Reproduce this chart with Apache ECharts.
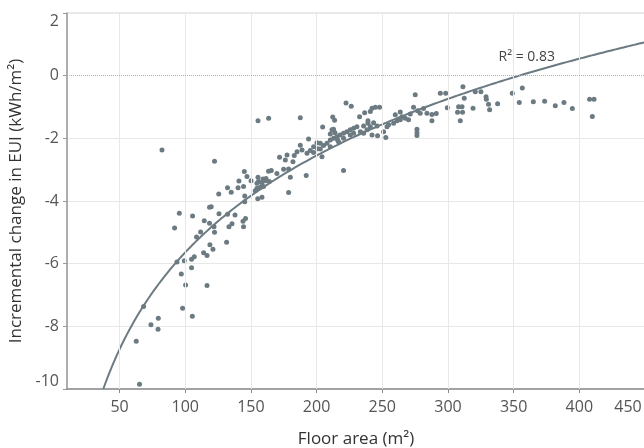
<!DOCTYPE html>
<html>
<head>
<meta charset="utf-8">
<script src="https://cdn.jsdelivr.net/npm/echarts@6/dist/echarts.min.js"></script>
<style>
html,body{margin:0;padding:0;background:#fff;}
#chart{width:644px;height:448px;}
</style>
</head>
<body>
<div id="chart"></div>
<script>
// Floor area (m²)
const floorArea = [
  65.2, 62.7, 68.3, 73.9, 79.5, 79.3, 98.0, 105.4, 100.3, 116.6,
  97.0, 104.8, 93.7, 99.3, 104.8, 106.9, 114.0, 116.6, 118.8, 121.1,
  108.6, 111.7, 122.3, 121.9, 91.9, 95.5, 105.6, 114.5, 118.5, 118.5,
  119.8, 125.7, 132.2, 137.9, 131.5, 133.3, 135.6, 144.0, 145.9, 144.4,
  82.3, 122.3, 125.5, 132.2, 135.0, 140.2, 140.9, 145.0, 147.0, 150.1,
  145.3, 145.3, 144.4, 155.4, 159.2, 161.5, 163.4, 165.5, 169.8, 155.8,
  158.4, 164.0, 154.6, 157.1, 153.3, 155.2, 158.4, 155.4, 163.5, 171.8,
  178.7, 180.0, 159.6, 160.9, 154.6, 174.9, 178.7, 177.5, 176.2, 182.0,
  183.0, 185.1, 188.9, 187.6, 192.7, 195.2, 197.7, 200.3, 197.7, 200.7,
  202.8, 202.8, 205.3, 207.9, 210.4, 204.1, 193.9, 192.1, 187.6, 204.6,
  212.3, 213.7, 212.9, 214.0, 210.4, 216.0, 220.5, 222.4, 226.4, 211.7,
  213.0, 215.5, 217.8, 216.7, 220.5, 220.5, 223.1, 225.6, 225.6, 228.2,
  228.2, 230.7, 232.7, 233.3, 235.8, 235.8, 236.6, 238.4, 239.1, 239.1,
  240.9, 240.9, 242.2, 242.2, 243.4, 244.7, 246.0, 246.4, 247.9, 251.0,
  252.7, 253.6, 254.8, 258.6, 259.9, 261.2, 263.7, 263.7, 265.0, 267.5,
  270.0, 271.3, 273.8, 275.1, 276.9, 276.4, 276.4, 276.4, 278.9, 281.4,
  284.0, 287.8, 287.8, 291.1, 294.2, 298.3, 299.5, 308.1, 310.7, 307.3,
  311.1, 309.4, 311.4, 312.4, 319.1, 320.8, 325.1, 329.0, 329.2, 330.9,
  331.7, 337.8, 349.0, 356.6, 354.3, 365.0, 373.6, 381.7, 388.3, 394.7,
  407.8, 411.2, 409.9, 210.4
];
// Incremental change in EUI (kWh/m²)
const euiChange = [
  -9.85, -8.48, -7.37, -7.95, -7.74, -8.09, -7.42, -7.68, -6.68, -6.70,
  -6.33, -6.13, -5.95, -5.91, -5.86, -5.78, -5.65, -5.74, -5.40, -5.54,
  -5.15, -4.99, -5.00, -4.82, -4.86, -4.39, -4.48, -4.63, -4.71, -4.20,
  -4.18, -4.41, -4.42, -4.45, -5.32, -4.82, -4.73, -4.65, -4.56, -4.82,
  -2.37, -2.73, -3.78, -3.58, -3.72, -3.58, -3.36, -3.06, -3.22, -3.35,
  -3.84, -4.02, -3.54, -3.24, -3.30, -3.28, -3.05, -3.03, -3.12, -3.38,
  -3.42, -3.38, -3.59, -3.56, -3.67, -3.93, -3.88, -1.44, -1.36, -2.60,
  -3.73, -3.24, -3.54, -3.35, -3.43, -2.99, -2.98, -2.53, -2.69, -2.75,
  -2.55, -2.43, -2.37, -2.22, -2.48, -2.39, -2.27, -2.14, -2.45, -2.33,
  -2.34, -2.16, -2.23, -2.16, -2.27, -2.59, -2.02, -3.19, -1.34, -1.64,
  -1.32, -1.42, -1.71, -1.82, -1.86, -2.05, -3.03, -0.87, -0.98, -1.73,
  -2.00, -1.95, -1.89, -2.11, -1.84, -2.00, -1.79, -1.73, -1.89, -1.68,
  -1.84, -1.63, -1.31, -1.79, -1.61, -1.84, -1.18, -1.73, -1.44, -1.52,
  -1.14, -1.63, -1.04, -1.89, -1.50, -1.01, -1.61, -1.92, -1.01, -1.79,
  -1.97, -1.63, -1.57, -1.52, -1.25, -1.44, -1.16, -1.41, -1.31, -1.36,
  -1.41, -1.22, -1.01, -0.61, -1.12, -1.71, -1.82, -1.91, -1.20, -1.05,
  -1.20, -1.24, -1.44, -1.21, -0.56, -0.56, -1.02, -0.99, -0.99, -1.17,
  -1.17, -1.44, -0.35, -0.72, -1.04, -0.51, -0.51, -0.67, -0.75, -0.91,
  -1.09, -0.90, -0.56, -0.39, -0.86, -0.83, -0.82, -0.96, -0.86, -1.05,
  -0.75, -0.75, -1.30, -2.05
];
// Axis tick labels
const xTicks = [50, 100, 150, 200, 250, 300, 350, 400, 450];
const yTicks = [-10, -8, -6, -4, -2, 0, 2];
// Logarithmic trend line: y = a*ln(x) + b
const trendA = 4.46;
const trendB = -26.18;
const trendLabel = 'R² = 0.83';
const trendLabelAt = [360, 0.6];

const xMin = 10, xMax = 450;
const yMin = yTicks[0], yMax = yTicks[yTicks.length - 1];

const scatterData = floorArea.map((x, i) => [x, euiChange[i]]);
const trendStart = Math.exp((yMin - trendB) / trendA);
const trendData = [];
for (let x = trendStart; x <= xMax; x += 2) trendData.push([x, trendA * Math.log(x) + trendB]);
trendData.push([xMax, trendA * Math.log(xMax) + trendB]);

const gridLines = xTicks.map(v => ({xAxis: v, lineStyle: {color: '#e8e8e8', type: 'solid', width: 1}}));
gridLines.push({yAxis: 0, lineStyle: {color: '#b0b0b0', type: 'dotted', width: 1}});

const FONT = 'Open Sans';
const chart = echarts.init(document.getElementById('chart'), null, {renderer: 'canvas'});
chart.setOption({
  animation: false,
  backgroundColor: '#ffffff',
  grid: {left: 67, top: 13, right: -1, bottom: 59, show: true, borderColor: '#d4d4d4', borderWidth: 1,
    containLabel: false, outerBoundsMode: 'none'},
  xAxis: {
    type: 'value', min: xMin, max: xMax,
    name: 'Floor area (m²)', nameLocation: 'middle', nameGap: 42,
    nameTextStyle: {fontFamily: FONT, fontSize: 17, color: '#333'},
    axisLine: {show: true, onZero: false, lineStyle: {color: '#8a8a8a', width: 1.5}},
    axisTick: {show: true, length: 4, customValues: xTicks, lineStyle: {color: '#8a8a8a'}},
    axisLabel: {
      customValues: xTicks, fontFamily: FONT, fontSize: 16, color: '#555', margin: 10,
      formatter: v => (v === xMax ? '{edge|' + v + '}' : String(v)),
      rich: {edge: {fontFamily: FONT, fontSize: 16, color: '#555', padding: [0, 34, 0, 0]}}
    },
    splitLine: {show: false}
  },
  yAxis: {
    type: 'value', min: yMin, max: yMax, interval: 2,
    name: 'Incremental change in EUI (kWh/m²)', nameLocation: 'middle', nameGap: 39,
    nameTextStyle: {fontFamily: FONT, fontSize: 17, color: '#333'},
    axisLine: {show: true, onZero: false, lineStyle: {color: '#999', width: 1.5}},
    axisTick: {show: true, length: 4, lineStyle: {color: '#999'}},
    axisLabel: {fontFamily: FONT, fontSize: 16, color: '#555', margin: 8,
      verticalAlignMinLabel: 'bottom', verticalAlignMaxLabel: 'top'},
    splitLine: {show: true, lineStyle: {color: ['#e8e8e8', '#e8e8e8', '#e8e8e8', '#e8e8e8', '#e8e8e8', 'rgba(0,0,0,0)', 'rgba(0,0,0,0)'], width: 1}}
  },
  series: [
    {
      type: 'scatter', data: [], silent: true,
      markLine: {
        silent: true, symbol: ['none', 'none'], label: {show: false},
        data: gridLines
      },
      z: 1
    },
    {
      type: 'scatter', data: scatterData, symbolSize: 5,
      itemStyle: {color: '#6c7a82', opacity: 1},
      z: 3
    },
    {
      type: 'line', data: trendData, showSymbol: false, smooth: false,
      lineStyle: {color: '#6c7a82', width: 2},
      markPoint: {
        symbol: 'circle', symbolSize: 1, itemStyle: {color: 'rgba(0,0,0,0)'},
        label: {show: true, position: 'inside', formatter: trendLabel, fontFamily: FONT, fontSize: 14, color: '#444'},
        data: [{coord: trendLabelAt}]
      },
      z: 4
    }
  ]
});
</script>
</body>
</html>
